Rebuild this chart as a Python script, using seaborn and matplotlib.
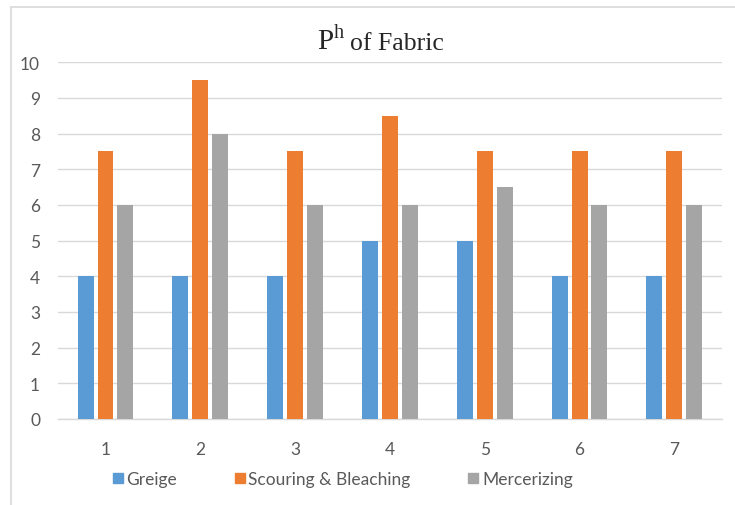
import matplotlib
matplotlib.use("Agg")
import matplotlib.pyplot as plt
import seaborn as sns
import pandas as pd
from matplotlib.lines import Line2D

samples = ["1", "2", "3", "4", "5", "6", "7"]
greige = [4, 4, 4, 5, 5, 4, 4]
scouring_bleaching = [7.5, 9.5, 7.5, 8.5, 7.5, 7.5, 7.5]
mercerizing = [6, 8, 6, 6, 6.5, 6, 6]
series_names = ["Greige", "Scouring & Bleaching", "Mercerizing"]
colors = ["#5B9BD5", "#ED7D31", "#A5A5A5"]

df = pd.DataFrame({
    "Sample": samples * 3,
    "Series": [series_names[0]] * 7 + [series_names[1]] * 7 + [series_names[2]] * 7,
    "pH": greige + scouring_bleaching + mercerizing,
})

sns.set_theme(style="white")
plt.rcParams["font.family"] = ["Lato", "DejaVu Sans"]
plt.rcParams["mathtext.fontset"] = "custom"
plt.rcParams["mathtext.rm"] = "Liberation Serif"

fig = plt.figure(figsize=(7.35, 5.06), dpi=100)
ax = fig.add_axes([0.079, 0.170, 0.903, 0.705])

sns.barplot(data=df, x="Sample", y="pH", hue="Series", palette=colors,
            width=0.63, gap=0.2, saturation=1, ax=ax, legend=False,
            linewidth=0, zorder=3)

ax.set_ylim(0, 10)
ax.set_yticks(range(0, 11))
ax.set_xlim(-0.5, 6.5)
ax.grid(axis="y", color="#D9D9D9", linewidth=1, zorder=0)
ax.set_axisbelow(True)
for s in ["top", "right", "left"]:
    ax.spines[s].set_visible(False)
ax.spines["bottom"].set_color("#D9D9D9")
ax.spines["bottom"].set_linewidth(1)
ax.tick_params(axis="both", length=0, labelsize=12.5, labelcolor="#595959")
ax.tick_params(axis="x", pad=16)
ax.tick_params(axis="y", pad=13)
ax.set_xlabel("")
ax.set_ylabel("")

# title: "P" with superscript "h", followed by "of Fabric"
title_y = 1 - 50 / 506
fig.text(345 / 735, title_y, r"$\mathrm{P}^{\mathrm{h}}$", ha="right", va="baseline",
         fontsize=21, color="#262626")
fig.text(350 / 735, title_y, "of Fabric", ha="left", va="baseline",
         fontsize=18.5, family="Liberation Serif", color="#262626")

handles = [Line2D([], [], marker="s", linestyle="none", markersize=7,
                  markerfacecolor=c, markeredgecolor=c) for c in colors]
fig.legend(handles, series_names, loc="center", bbox_to_anchor=(0.465, 0.052),
           ncol=3, frameon=False, fontsize=12.5, labelcolor="#595959",
           handletextpad=0.1, columnspacing=3.2, handlelength=0.8)

# thin chart border on the left and top
fig.add_artist(Line2D([0.015, 0.015], [0, 0.984], transform=fig.transFigure,
                      color="#D9D9D9", linewidth=1.2))
fig.add_artist(Line2D([0.015, 1.0], [0.984, 0.984], transform=fig.transFigure,
                      color="#D9D9D9", linewidth=1.2))

fig.savefig("out.png", dpi=100, facecolor="white")
